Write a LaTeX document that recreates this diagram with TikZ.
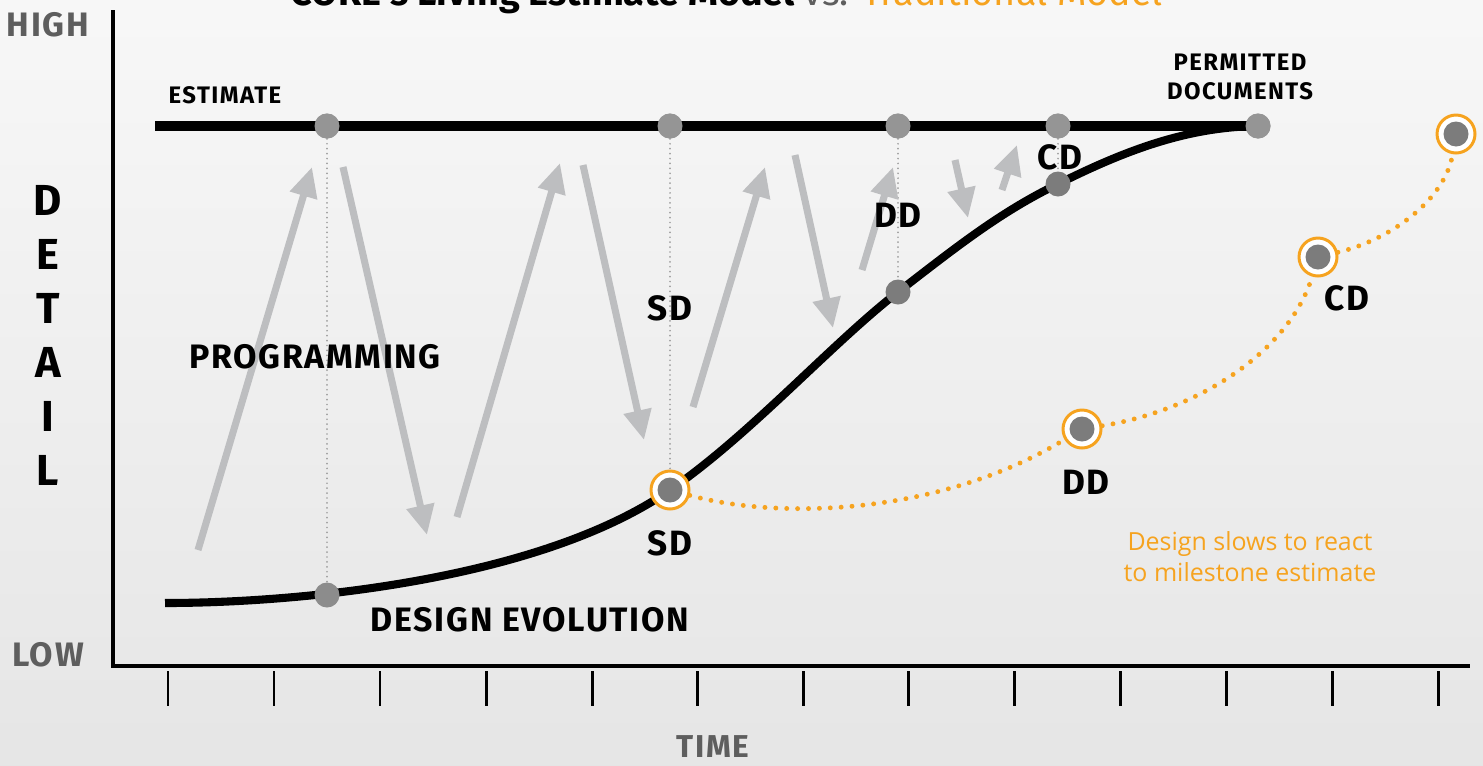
\documentclass[tikz,border=0pt]{standalone}
\usepackage{fontspec}
\setmainfont{Fira Sans}
\newfontfamily\notefont{Open Sans}
\usetikzlibrary{arrows.meta}

\definecolor{arrowgray}{HTML}{BDBEC0}
\definecolor{dotgray}{HTML}{959595}
\definecolor{darkdot}{HTML}{7C7C7C}
\definecolor{axisgray}{HTML}{5E5E5E}
\definecolor{lateorange}{HTML}{F6A31F}

\tikzset{
  every node/.style={inner sep=0pt},
  smallcaps/.style={font=\fontsize{13.6}{16.4}\selectfont\bfseries\addfontfeatures{LetterSpace=6}},
  phase/.style={font=\fontsize{20}{22}\selectfont\bfseries\addfontfeatures{LetterSpace=3}},
  big/.style={font=\fontsize{19.3}{22}\selectfont\bfseries\addfontfeatures{LetterSpace=5}},
  scalelbl/.style={big, text=axisgray},
  estdot/.style={circle, fill=dotgray, minimum size=0.5cm},
  devdot/.style={circle, fill=darkdot, minimum size=0.5cm},
  ring/.style={circle, draw=lateorange, line width=1.7pt, fill=white, minimum size=0.76cm,
    path picture={\fill[darkdot] (path picture bounding box.center) circle (0.25cm);}},
  guide/.style={draw=black!38, line width=1.1pt, dash pattern=on 0pt off 2.8pt, line cap=round},
  lag/.style={draw=lateorange, line width=2.8pt, dash pattern=on 0pt off 6.2pt, line cap=round},
  iter/.style={draw=arrowgray, line width=4pt, -{Triangle[width=15.3pt,length=17pt]}},
}

\begin{document}
\begin{tikzpicture}[x=0.02cm,y=-0.02cm]
\useasboundingbox (0,0) rectangle (1483,765);
\shade[top color=black!3, bottom color=black!10] (0,0) rectangle (1483,765);

% title, mostly above the page edge
\node[anchor=base, font=\fontsize{21.5}{24}\selectfont] (title) at (727,5)
  {\bfseries CORE's Living Estimate Model \mdseries\textcolor{axisgray}{vs.} \textcolor{lateorange}{Traditional Model}};

% axes and time ticks
\draw[line width=2.3pt] (113,10) -- (113,666) -- (1470,666);
\foreach \t in {168,274,380,486,592,697,803,908,1014,1120,1226,1332,1438}
  \draw[line width=1.7pt] (\t,671) -- (\t,706);

\node[scalelbl] (high) at (48,25) {HIGH};
\node[scalelbl] (low) at (48,655) {LOW};
\node[scalelbl, font=\fontsize{18}{20}\selectfont\bfseries\addfontfeatures{LetterSpace=5}] (time) at (713,747) {TIME};
\foreach \l [count=\i from 0] in {D,E,T,A,I,L}
  \node[font=\fontsize{24.7}{26}\selectfont\bfseries] at (48,200+54*\i) {\l};

% milestones on the estimate
\coordinate (estS) at (155,126);
\node[estdot] (e1) at (327,126) {};
\node[estdot] (e2) at (670,126) {};
\node[estdot] (e3) at (898,126) {};
\node[estdot] (e4) at (1058,126) {};
\node[estdot] (e5) at (1258,126) {};

% design evolution curve
\coordinate (devS) at (165,603);
\coordinate (c1) at (327,595);
\coordinate (c2) at (670,490);
\coordinate (c3) at (898,292);
\coordinate (c4) at (1058,184);

\draw[line width=5.6pt] (estS) -- (e5.center);
\draw[line width=4.6pt] (devS) .. controls (300,603) and (540,580) .. (c2)
  .. controls (750,435) and (830,345) .. (c3)
  .. controls (955,248) and (1000,212) .. (c4)
  .. controls (1130,148) and (1190,127) .. (e5.center);

\draw[guide] (e1) -- (c1);
\draw[guide] (e2) -- (c2);
\draw[guide] (e3) -- (c3);
\draw[guide] (e4) -- (c4);

% estimate iterations
\foreach \ax/\ay/\bx/\by in {198/550/312/167, 343/167/427/535, 457/517/560/163,
    583/165/644/440, 693/407/765/167, 795/155/833/328, 862/270/893/167,
    955/160/968/218, 1002/190/1017/145}
  \draw[iter] (\ax,\ay) -- (\bx,\by);

\node[estdot] at (e1) {};
\node[estdot] at (e2) {};
\node[estdot] at (e3) {};
\node[estdot] at (e4) {};
\node[estdot] at (e5) {};
\node[devdot, fill=black!45] (d1) at (c1) {};
\node[devdot] (d3) at (c3) {};
\node[devdot] (d4) at (c4) {};

% traditional model milestones
\node[ring] (sdT) at (c2) {};
\node[ring] (ddT) at (1082,429) {};
\node[ring] (cdT) at (1318,257) {};
\node[ring] (pdT) at (1456,134) {};
\draw[lag] (sdT) .. controls (780,520) and (940,515) .. (ddT);
\draw[lag] (ddT) .. controls (1200,410) and (1290,350) .. (cdT);
\draw[lag] (cdT) .. controls (1390,240) and (1445,200) .. (pdT);

% labels
\node[smallcaps] (estL) at (225,95) {ESTIMATE};
\node[smallcaps, align=center] (permL) at (1240,77) {PERMITTED\\DOCUMENTS};
\node[big] (progL) at (315,357) {PROGRAMMING};
\node[big] (devL) at (530,620) {DESIGN EVOLUTION};
\node[phase] at (670,308) {SD};
\node[phase] at (670,543) {SD};
\node[phase] at (898,215) {DD};
\node[phase] at (1086,482) {DD};
\node[phase] at (1060,157) {CD};
\node[phase] at (1347,298) {CD};
\node[font=\notefont\fontsize{14.2}{17.6}\selectfont, text=lateorange, align=center] (note)
  at (1250,557) {Design slows to react\\to milestone estimate};
\end{tikzpicture}
\end{document}
